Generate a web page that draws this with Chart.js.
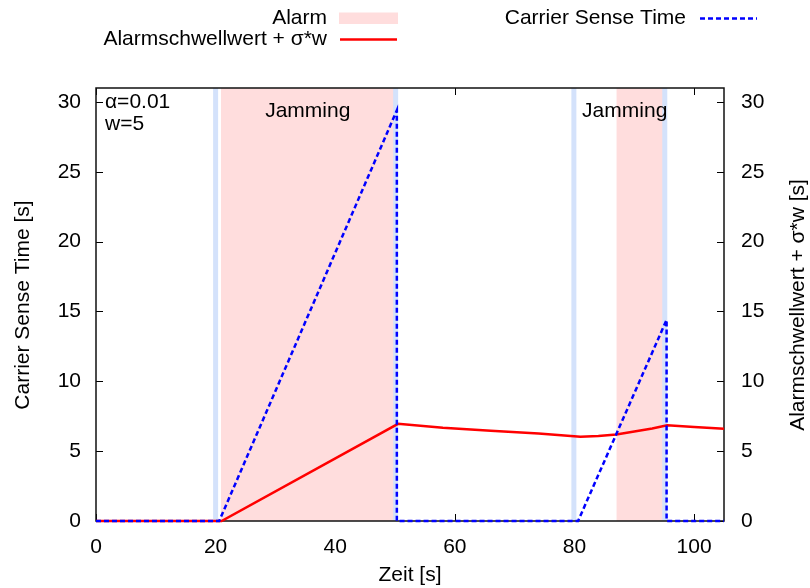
<!DOCTYPE html>
<html>
<head>
<meta charset="utf-8">
<script src="https://cdn.jsdelivr.net/npm/chart.js@4"></script>
<style>
  html, body { margin: 0; padding: 0; background: #fff; }
</style>
</head>
<body>
<canvas id="chart" width="810" height="588"></canvas>
<script>
// Carrier Sense Time [s] over Zeit [s]
const carrierTime = [0, 20.6, 50.3, 50.3, 80.6, 95.4, 95.4, 105];
const carrierSense = [0, 0, 29.4, 0, 0, 14.4, 0, 0];

// Alarmschwellwert + sigma*w
const thresholdTime = [0, 21.0, 50.5, 58, 66, 74, 81, 84, 87, 90, 93, 95.5, 100, 105];
const threshold = [0, 0, 6.96, 6.68, 6.46, 6.26, 6.04, 6.08, 6.2, 6.4, 6.62, 6.85, 6.73, 6.6];

// alarm intervals (pink) and jamming start/end marks (light blue)
const alarmStart = [20.9, 87.0];
const alarmEnd = [50.1, 95.1];
const jammingEdges = [20.0, 50.1, 79.9, 95.1];

const xMin = 0, xMax = 105, xStep = 20;
const yMin = 0, yMax = 31, yStep = 5;

const FONT = "'Liberation Sans', Arial, Helvetica, sans-serif";
const PINK = '#ffdddd';
const LIGHTBLUE = '#d4e2fb';

Chart.defaults.font.family = FONT;
Chart.defaults.font.size = 21;
Chart.defaults.color = '#000';

const zip = (xs, ys) => xs.map((x, i) => ({ x: x, y: ys[i] }));

const alarmSets = alarmStart.map((s, i) => ({
    label: 'Alarm',
    data: [{ x: s, y: yMax }, { x: alarmEnd[i], y: yMax }],
    borderWidth: 0,
    borderColor: PINK,
    backgroundColor: PINK,
    pointRadius: 0,
    fill: { value: 0 },
    yAxisID: 'y',
    order: 4
}));

const bandData = [];
jammingEdges.forEach(x => {
    bandData.push({ x: x, y: yMin }, { x: x, y: yMax }, { x: x, y: null });
});

const datasets = [
    {
        label: 'Carrier Sense Time',
        data: zip(carrierTime, carrierSense),
        borderColor: '#0000ff',
        borderWidth: 2.5,
        borderDash: [5, 3],
        pointRadius: 0,
        tension: 0,
        clip: false,
        yAxisID: 'y',
        order: 1
    },
    {
        label: 'Alarmschwellwert + σ*w',
        data: zip(thresholdTime, threshold),
        borderColor: '#ff0000',
        borderWidth: 2.5,
        pointRadius: 0,
        tension: 0,
        clip: false,
        yAxisID: 'y2',
        order: 2
    },
    {
        label: 'Jamming',
        data: bandData,
        borderColor: LIGHTBLUE,
        borderWidth: 5,
        pointRadius: 0,
        spanGaps: false,
        yAxisID: 'y',
        order: 3
    }
].concat(alarmSets);

// gnuplot look: inward ticks, box border, key on top, labels
const gnuplotLook = {
    id: 'gnuplotLook',
    beforeDatasetsDraw(chart) {
        const ctx = chart.ctx, a = chart.chartArea;
        const sx = chart.scales.x, sy = chart.scales.y, sy2 = chart.scales.y2;
        ctx.save();
        ctx.strokeStyle = '#000';
        ctx.lineWidth = 1;
        ctx.beginPath();
        sx.ticks.forEach(t => {
            const px = Math.round(sx.getPixelForValue(t.value)) + 0.5;
            ctx.moveTo(px, a.bottom); ctx.lineTo(px, a.bottom - 7);
            ctx.moveTo(px, a.top); ctx.lineTo(px, a.top + 7);
        });
        sy.ticks.forEach(t => {
            const py = Math.round(sy.getPixelForValue(t.value)) + 0.5;
            ctx.moveTo(a.left, py); ctx.lineTo(a.left + 7, py);
        });
        sy2.ticks.forEach(t => {
            const py = Math.round(sy2.getPixelForValue(t.value)) + 0.5;
            ctx.moveTo(a.right, py); ctx.lineTo(a.right - 7, py);
        });
        ctx.stroke();
        ctx.restore();
    },
    beforeDatasetDraw(chart, args) {
        // border goes above the shading but below the curves
        if (args.meta.order !== 2) return;
        const ctx = chart.ctx, a = chart.chartArea;
        ctx.save();
        ctx.strokeStyle = '#111';
        ctx.lineWidth = 1.5;
        ctx.strokeRect(a.left, a.top, a.right - a.left, a.bottom - a.top);
        ctx.restore();
    },
    afterDraw(chart) {
        const ctx = chart.ctx;
        const sx = chart.scales.x, sy = chart.scales.y;
        ctx.save();
        ctx.fillStyle = '#000';
        ctx.font = '21px ' + FONT;

        // key
        ctx.textAlign = 'right';
        ctx.textBaseline = 'middle';
        ctx.fillText('Alarm', 327, 18.5);
        ctx.fillStyle = PINK;
        ctx.fillRect(339, 12.5, 59, 11.5);
        ctx.fillStyle = '#000';
        ctx.fillText('Alarmschwellwert + σ*w', 327, 39);
        ctx.strokeStyle = '#ff0000';
        ctx.lineWidth = 2.5;
        ctx.beginPath(); ctx.moveTo(340, 39.5); ctx.lineTo(397, 39.5); ctx.stroke();
        ctx.fillText('Carrier Sense Time', 686, 18.5);
        ctx.strokeStyle = '#0000ff';
        ctx.setLineDash([5, 3]);
        ctx.beginPath(); ctx.moveTo(700, 18.5); ctx.lineTo(757, 18.5); ctx.stroke();
        ctx.setLineDash([]);

        // labels inside the plot
        ctx.textAlign = 'left';
        ctx.textBaseline = 'alphabetic';
        ctx.fillText('α=0.01', sx.getPixelForValue(1.5), sy.getPixelForValue(29.6));
        ctx.fillText('w=5', sx.getPixelForValue(1.5), sy.getPixelForValue(28.0));
        ctx.textAlign = 'center';
        ctx.fillText('Jamming', sx.getPixelForValue(35.4), sy.getPixelForValue(28.9));
        ctx.fillText('Jamming', sx.getPixelForValue(88.4), sy.getPixelForValue(28.9));

        // axis titles
        ctx.textBaseline = 'middle';
        ctx.fillText('Zeit [s]', 410, 575);
        ctx.translate(23, 305);
        ctx.rotate(-Math.PI / 2);
        ctx.fillText('Carrier Sense Time [s]', 0, 0);
        ctx.setTransform(1, 0, 0, 1, 0, 0);
        ctx.translate(798, 305);
        ctx.rotate(-Math.PI / 2);
        ctx.fillText('Alarmschwellwert + σ*w [s]', 0, 0);
        ctx.restore();
    }
};

const hiddenGrid = { display: false, drawTicks: false };

const ctx = document.getElementById('chart').getContext('2d');
const myChart = new Chart(ctx, {
    type: 'line',
    data: { datasets: datasets },
    options: {
        responsive: false,
        animation: false,
        events: [],
        layout: { padding: { top: 88, left: 0, right: 0, bottom: 0 } },
        plugins: {
            legend: { display: false },
            tooltip: { enabled: false }
        },
        scales: {
            x: {
                type: 'linear',
                min: xMin, max: xMax,
                grid: hiddenGrid,
                border: { display: false },
                ticks: { stepSize: xStep, includeBounds: false, padding: 14, maxRotation: 0 },
                afterFit: s => { s.height = 67; }
            },
            y: {
                position: 'left',
                min: yMin, max: yMax,
                grid: hiddenGrid,
                border: { display: false },
                ticks: { stepSize: yStep, includeBounds: false, padding: 15 },
                afterFit: s => { s.width = 96; }
            },
            y2: {
                position: 'right',
                min: yMin, max: yMax,
                grid: hiddenGrid,
                border: { display: false },
                ticks: { stepSize: yStep, includeBounds: false, padding: 17 },
                afterFit: s => { s.width = 86; }
            }
        }
    },
    plugins: [gnuplotLook]
});
</script>
</body>
</html>
